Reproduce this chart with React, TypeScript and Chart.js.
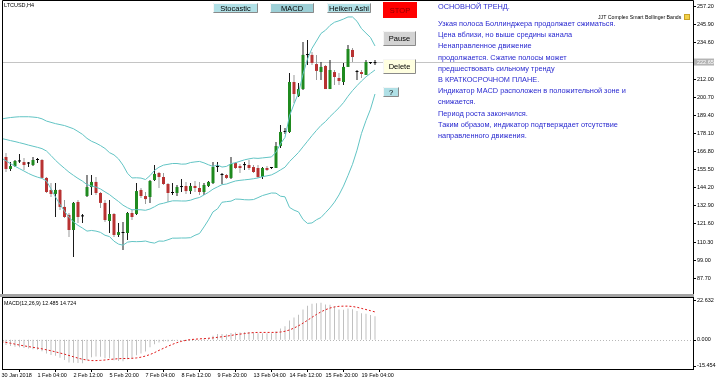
import React, { useEffect, useRef } from 'react';
import { Chart, registerables } from 'chart.js';

Chart.register(...registerables);

const FONT = '"Liberation Sans", Arial, Helvetica, sans-serif';

const symbolLabel = 'LTCUSD,H4';
const indicatorName = 'JJT Complex Smart Bollinger Bands';

// ---- candles (H4 bars, index 0..83) ----
const opens = [
  165.9, 163.4, 155.9, 157.7, 160.6, 160.2, 159.3, 158.4, 161.5, 161.5,
  150.3, 142.8, 140.3, 142.8, 132.2, 127.2, 117.8, 135.3, 126.5, 139.0,
  144.6, 147.8, 140.9, 134.7, 123.4, 127.8, 114.7, 115.9, 115.9, 128.4,
  127.8, 142.8, 139.0, 138.4, 149.0, 153.4, 150.9, 146.5, 140.9, 140.9,
  144.6, 145.3, 142.1, 145.3, 144.0, 141.5, 145.3, 147.1, 157.1, 152.1,
  152.1, 150.3, 159.6, 157.7, 158.4, 158.4, 157.1, 156.5, 150.9, 156.5,
  156.5, 156.5, 170.2, 179.0, 179.0, 210.2, 201.4, 205.8, 227.0, 227.1,
  221.4, 216.4, 220.2, 205.8, 216.4, 212.7, 210.2, 219.6, 230.2, 216.4,
  216.4, 214.6, 222.0, 222.0,
];
const highs = [
  166.5, 165.9, 160.2, 161.5, 165.2, 162.7, 160.2, 163.4, 162.7, 162.1,
  150.9, 147.1, 147.1, 143.4, 136.5, 128.4, 135.3, 136.5, 127.8, 152.1,
  152.1, 150.9, 141.5, 136.5, 136.5, 128.4, 122.2, 122.8, 129.0, 130.3,
  147.1, 144.0, 141.5, 149.0, 158.4, 154.0, 153.4, 147.1, 147.1, 145.9,
  149.6, 147.8, 147.1, 148.4, 147.8, 147.1, 148.4, 160.2, 160.2, 153.4,
  152.8, 163.4, 160.2, 159.0, 160.2, 161.5, 158.4, 158.4, 157.1, 157.7,
  157.1, 172.7, 183.3, 181.5, 215.8, 214.6, 209.6, 235.2, 236.4, 228.9,
  227.1, 222.7, 220.8, 223.9, 217.7, 215.8, 222.1, 233.3, 231.4, 217.7,
  217.7, 223.9, 222.7, 223.9,
];
const lows = [
  162.7, 154.0, 154.6, 157.1, 159.6, 155.3, 157.1, 157.7, 159.6, 150.3,
  140.9, 138.4, 125.9, 130.3, 125.3, 113.4, 100.9, 122.2, 122.2, 138.4,
  139.6, 139.6, 131.5, 122.8, 115.9, 113.4, 113.4, 105.3, 111.6, 124.0,
  127.2, 137.8, 134.0, 134.7, 148.4, 144.0, 145.9, 135.3, 139.6, 139.0,
  141.5, 140.3, 140.3, 141.5, 139.6, 139.6, 144.6, 146.5, 154.0, 146.5,
  149.6, 149.6, 155.9, 153.4, 155.3, 155.3, 153.4, 150.3, 149.6, 154.6,
  155.9, 156.5, 169.0, 177.7, 178.4, 197.1, 200.8, 205.2, 220.8, 220.8,
  211.4, 211.4, 205.8, 205.8, 208.3, 208.3, 208.3, 219.6, 222.7, 211.4,
  212.7, 214.6, 221.4, 220.8,
];
const closes = [
  163.4, 155.9, 157.7, 160.9, 160.9, 158.4, 159.3, 161.5, 161.5, 150.3,
  141.5, 140.3, 142.8, 132.2, 125.9, 117.8, 134.7, 125.9, 126.3, 144.6,
  147.8, 140.9, 134.7, 124.0, 127.8, 114.7, 116.5, 116.0, 128.4, 125.9,
  142.1, 139.0, 137.1, 148.4, 152.8, 150.9, 146.5, 140.9, 141.0, 144.6,
  144.7, 142.1, 145.3, 144.0, 141.5, 145.9, 147.8, 157.1, 157.2, 152.2,
  150.3, 159.0, 156.5, 156.5, 158.3, 156.5, 154.0, 150.9, 156.5, 155.3,
  156.6, 170.2, 179.0, 179.1, 210.2, 202.7, 205.8, 227.1, 227.1, 222.1,
  217.1, 219.6, 205.8, 217.7, 213.3, 210.8, 219.6, 230.8, 225.8, 216.5,
  215.2, 222.7, 222.1, 222.1,
];

// ---- Bollinger bands ----
const upperBand = [
  187.1, 187.6, 188.0, 188.3, 188.5, 188.5, 188.5, 188.3, 188.0, 187.2,
  185.8, 185.0, 184.2, 183.6, 183.0, 182.0, 181.0, 179.3, 177.5, 175.0,
  173.2, 172.0, 170.5, 168.7, 166.1, 164.7, 162.2, 158.3, 153.2, 150.3,
  150.4, 150.2, 149.3, 151.7, 155.0, 157.0, 158.3, 158.8, 159.3, 159.3,
  158.9, 159.0, 159.9, 160.3, 160.6, 159.7, 158.5, 157.5, 158.4, 157.1,
  157.5, 159.2, 159.8, 160.7, 161.6, 162.2, 162.7, 162.5, 162.8, 163.1,
  163.4, 166.4, 171.6, 175.6, 189.0, 196.4, 203.3, 215.0, 224.5, 231.2,
  235.8, 240.5, 242.5, 245.5, 247.5, 248.4, 249.5, 250.8, 250.8, 248.1,
  243.5, 240.7, 238.0, 232.7,
];
const middleBand = [
  174.9, 174.3, 173.6, 173.0, 172.3, 171.6, 170.8, 170.1, 169.4, 168.6,
  167.1, 164.3, 161.3, 158.7, 156.3, 153.9, 151.9, 150.0, 148.3, 146.1,
  145.3, 144.6, 143.4, 141.6, 139.9, 137.7, 135.6, 133.3, 131.7, 130.4,
  130.5, 130.4, 130.1, 130.9, 132.3, 133.9, 134.5, 135.3, 136.0, 136.0,
  135.9, 135.9, 136.4, 137.4, 138.1, 139.7, 141.3, 143.3, 144.7, 146.1,
  146.5, 147.5, 148.4, 148.8, 149.1, 149.4, 149.8, 150.3, 151.1, 151.6,
  152.2, 153.6, 155.3, 157.0, 160.5, 163.3, 166.2, 169.7, 173.2, 176.7,
  180.0, 183.1, 185.5, 188.6, 191.3, 194.1, 197.3, 201.3, 204.8, 207.9,
  210.8, 213.4, 215.6, 217.7,
];
const lowerBand = [
  162.7, 161.0, 159.2, 157.6, 156.1, 154.6, 153.1, 151.8, 150.8, 150.0,
  148.4, 143.5, 138.4, 133.8, 129.6, 125.8, 122.8, 120.7, 119.0, 117.1,
  117.5, 117.1, 116.3, 114.5, 113.7, 110.8, 109.0, 108.3, 110.2, 110.6,
  110.5, 110.6, 110.9, 110.1, 109.6, 110.9, 110.8, 111.7, 112.7, 112.7,
  112.8, 112.8, 113.0, 114.5, 115.6, 119.7, 124.1, 129.1, 131.0, 135.1,
  135.5, 135.8, 137.1, 137.0, 136.7, 136.6, 136.8, 138.0, 139.3, 140.1,
  140.9, 140.8, 138.9, 138.5, 131.9, 130.2, 129.1, 124.4, 121.9, 122.2,
  124.2, 125.6, 128.6, 131.6, 135.2, 139.7, 145.2, 151.8, 158.8, 167.6,
  178.1, 186.1, 193.2, 202.7,
];

// ---- MACD(12,26,9) ----
const macdMain = [
  -2.0, -2.8, -3.3, -3.7, -4.0, -4.3, -4.6, -5.0, -5.3, -6.0,
  -7.2, -8.0, -8.5, -9.5, -10.7, -12.0, -12.1, -12.3, -12.4, -10.8,
  -9.3, -8.9, -9.0, -9.8, -9.8, -10.8, -11.2, -11.3, -10.3, -9.6,
  -8.2, -7.2, -6.2, -4.0, -2.3, -1.4, -0.9, -0.9, -0.7, -0.3,
  0.0, -0.1, 0.2, 0.3, 0.1, 0.5, 0.9, 2.2, 3.0, 3.0,
  2.9, 3.6, 3.8, 3.9, 4.1, 4.1, 3.9, 3.4, 3.5, 3.4,
  3.4, 4.5, 6.0, 7.1, 10.2, 11.8, 13.2, 16.0, 18.0, 19.0,
  19.3, 19.6, 18.6, 18.5, 17.6, 16.0, 15.9, 16.5, 16.2, 15.2,
  14.0, 13.8, 13.1, 12.485,
];
const macdSignal = [
  -1.0, -1.4, -1.8, -2.3, -2.8, -3.2, -3.6, -4.0, -4.4, -4.8,
  -5.3, -5.8, -6.4, -7.0, -7.6, -8.3, -9.0, -9.7, -10.3, -10.7,
  -11.0, -11.0, -10.9, -10.7, -10.4, -10.2, -10.0, -9.9, -9.9, -9.8,
  -9.6, -9.2, -8.6, -7.8, -6.8, -5.6, -4.5, -3.4, -2.4, -1.5,
  -0.8, -0.3, 0.1, 0.3, 0.5, 0.6, 0.8, 1.0, 1.3, 1.6,
  1.9, 2.3, 2.7, 3.0, 3.3, 3.6, 3.8, 3.9, 3.9, 3.9,
  3.9, 3.9, 4.1, 4.5, 5.2, 6.2, 7.4, 8.8, 10.3, 11.9,
  13.4, 14.8, 15.9, 16.8, 17.4, 17.7, 17.8, 17.8, 17.6, 17.2,
  16.6, 16.0, 15.4, 14.724,
];

// ---- axes ----
const priceTicks = [257.2, 245.9, 234.6, 223.3, 212.0, 200.7, 189.4, 178.1, 166.8, 155.5, 144.2, 132.9, 121.6, 110.3, 99.0, 87.7];
const macdTicks = [22.632, 0, -15.454];
const timeLabels = ['30 Jan 2018', '1 Feb 04:00', '2 Feb 12:00', '5 Feb 20:00', '7 Feb 04:00', '8 Feb 12:00', '9 Feb 20:00', '13 Feb 04:00', '14 Feb 12:00', '15 Feb 20:00', '19 Feb 04:00'];
const timeLabelBars = [0, 8, 16, 24, 32, 40, 48, 56, 64, 72, 80];
const bidPrice = 222.65;

const buttonLabels = ['Stocastic', 'MACD', 'Heiken Ashi', 'STOP', 'Pause', 'Delete', '?'];
const commentLines = [
  'ОСНОВНОЙ ТРЕНД.',
  'Узкая полоса Боллинджера продолжает сжиматься.',
  'Цена вблизи, но выше средины канала',
  'Ненаправленное движение',
  'продолжается. Сжатие полосы может',
  'предшествовать сильному тренду',
  'В КРАТКОСРОЧНОМ ПЛАНЕ.',
  'Индикатор MACD расположен в положительной зоне и',
  'снижается.',
  'Период роста закончился.',
  'Таким образом, индикатор подтверждает отсутствие',
  'направленного движения.',
];

// ---- styles / layout ----
const BULL = '#1f8a1f';
const BEAR = '#b83232';
const DOJI = '#000000';
const BULL_WICK = '#1a1a1a';
const BEAR_WICK = '#9a9a9a';
const BAND = '#62c4c4';
const X_MIN = 1 / 3;
const X_MAX = 153.667;

const buttonStyles = [
  { x: 213, y: 3, w: 45, h: 10, bg: '#b0e0e6', fg: '#000', bevel: true },
  { x: 270, y: 3, w: 44, h: 10, bg: '#9ccfd6', fg: '#000', bevel: true },
  { x: 327, y: 3, w: 44, h: 10, bg: '#b0e0e6', fg: '#000', bevel: true },
  { x: 383, y: 2, w: 34, h: 16, bg: '#ff0000', fg: '#8b0000', bevel: false },
  { x: 383, y: 31, w: 33, h: 15, bg: '#d3d3d3', fg: '#000', bevel: true },
  { x: 383, y: 59, w: 33, h: 15, bg: '#ffffe0', fg: '#000', bevel: true },
  { x: 383, y: 87, w: 16, h: 10, bg: '#b0e0e6', fg: '#000', bevel: true },
];

const mainOverlay = {
  id: 'mainOverlay',
  beforeDatasetsDraw(chart: any) {
    const { ctx, chartArea: a, scales } = chart;
    const y = Math.round(scales.y.getPixelForValue(bidPrice)) + 0.5;
    ctx.save();
    ctx.strokeStyle = '#c4c4c4';
    ctx.lineWidth = 1;
    ctx.beginPath();
    ctx.moveTo(a.left, y);
    ctx.lineTo(a.right, y);
    ctx.stroke();
    ctx.restore();
  },
  afterDraw(chart: any) {
    const { ctx, scales } = chart;
    ctx.save();
    // frame
    ctx.strokeStyle = '#000';
    ctx.lineWidth = 1;
    ctx.beginPath();
    ctx.moveTo(2.5, 294);
    ctx.lineTo(2.5, 0.5);
    ctx.lineTo(693.5, 0.5);
    ctx.lineTo(693.5, 294);
    ctx.stroke();
    // splitter
    ctx.fillStyle = '#a4a4a4';
    ctx.fillRect(0, 294, 694, 3);

    // bid label
    const by = scales.y.getPixelForValue(bidPrice);
    ctx.fillStyle = '#b4b4b4';
    ctx.fillRect(694, by - 3.5, 20, 7);
    ctx.fillStyle = '#ffffff';
    ctx.font = `5.5px ${FONT}`;
    ctx.textAlign = 'left';
    ctx.textBaseline = 'middle';
    ctx.fillText(bidPrice.toFixed(2), 697, by + 0.3);

    // symbol + indicator name
    ctx.fillStyle = '#000';
    ctx.font = `5.5px ${FONT}`;
    ctx.fillText(symbolLabel, 4, 5);
    ctx.font = `5.2px ${FONT}`;
    ctx.fillText(indicatorName, 598, 17.5);
    ctx.fillStyle = '#f2d14a';
    ctx.fillRect(684, 14, 6, 6);
    ctx.strokeStyle = '#c9a227';
    ctx.strokeRect(684.5, 14.5, 5, 5);

    // buttons
    buttonLabels.forEach((label, k) => {
      const b = buttonStyles[k];
      ctx.fillStyle = b.bg;
      ctx.fillRect(b.x, b.y, b.w, b.h);
      if (b.bevel) {
        ctx.lineWidth = 1;
        ctx.strokeStyle = '#f6f6f6';
        ctx.beginPath();
        ctx.moveTo(b.x + 0.5, b.y + b.h - 0.5);
        ctx.lineTo(b.x + 0.5, b.y + 0.5);
        ctx.lineTo(b.x + b.w - 0.5, b.y + 0.5);
        ctx.stroke();
        ctx.strokeStyle = '#8a8a8a';
        ctx.beginPath();
        ctx.moveTo(b.x + b.w - 0.5, b.y + 0.5);
        ctx.lineTo(b.x + b.w - 0.5, b.y + b.h - 0.5);
        ctx.lineTo(b.x + 0.5, b.y + b.h - 0.5);
        ctx.stroke();
      }
      ctx.fillStyle = b.fg;
      ctx.font = `7.5px ${FONT}`;
      ctx.textAlign = 'center';
      ctx.textBaseline = 'middle';
      ctx.fillText(label, b.x + b.w / 2, b.y + b.h / 2 + 0.5);
    });

    // comment text
    ctx.fillStyle = '#2a2ad0';
    ctx.font = `7.35px ${FONT}`;
    ctx.textAlign = 'left';
    ctx.textBaseline = 'middle';
    commentLines.forEach((line, k) => {
      const y = k === 0 ? 6.5 : 24 + 11.2 * (k - 1);
      ctx.fillText(line, 438, y);
    });
    ctx.restore();
  },
};

const macdOverlay = {
  id: 'macdOverlay',
  beforeDatasetsDraw(chart: any) {
    const { ctx, chartArea: a, scales } = chart;
    const y = Math.round(scales.y.getPixelForValue(0)) + 0.5;
    ctx.save();
    ctx.strokeStyle = '#b8b8b8';
    ctx.lineWidth = 1;
    ctx.setLineDash([1, 2]);
    ctx.beginPath();
    ctx.moveTo(a.left, y);
    ctx.lineTo(a.right, y);
    ctx.stroke();
    ctx.restore();
  },
  afterDraw(chart: any) {
    const { ctx, chartArea: a, scales } = chart;
    ctx.save();
    ctx.strokeStyle = '#000';
    ctx.lineWidth = 1;
    ctx.strokeRect(2.5, 3.5, 691, 72);
    ctx.font = `5.5px ${FONT}`;
    ctx.fillStyle = '#000';
    ctx.textAlign = 'left';
    ctx.textBaseline = 'middle';
    macdTicks.forEach((v) => {
      const py = Math.min(Math.max(scales.y.getPixelForValue(v), a.top + 3), a.bottom - 3.5);
      ctx.beginPath();
      ctx.moveTo(693, Math.round(py) + 0.5);
      ctx.lineTo(696, Math.round(py) + 0.5);
      ctx.stroke();
      ctx.fillText(v.toFixed(3), 697, py);
    });
    const n = macdMain.length - 1;
    ctx.font = `5.3px ${FONT}`;
    ctx.fillText(`MACD(12,26,9) ${macdMain[n].toFixed(3)} ${macdSignal[n].toFixed(3)}`, 4, 9.5);
    ctx.restore();
  },
};

export default function App() {
  const mainRef = useRef<HTMLCanvasElement>(null);
  const macdRef = useRef<HTMLCanvasElement>(null);

  useEffect(() => {
    const bodies = opens.map((o, i) => ({ x: i, y: [o, closes[i]] }));
    const wicks = lows.map((l, i) => ({ x: i, y: [l, highs[i]] }));
    const bodyColors = opens.map((o, i) =>
      Math.abs(closes[i] - o) < 0.35 ? DOJI : closes[i] > o ? BULL : BEAR
    );
    const wickColors = opens.map((o, i) => (closes[i] < o - 0.35 ? BEAR_WICK : BULL_WICK));
    const line = (vals: number[]) => ({
      type: 'line' as const,
      data: vals.map((v, i) => ({ x: i, y: v })),
      borderColor: BAND,
      borderWidth: 1,
      pointRadius: 0,
      tension: 0,
      fill: false,
    });

    const main = new Chart(mainRef.current as HTMLCanvasElement, {
      type: 'bar',
      data: {
        datasets: [
          line(upperBand) as any,
          line(middleBand) as any,
          line(lowerBand) as any,
          {
            type: 'bar',
            data: bodies as any,
            backgroundColor: bodyColors,
            barThickness: 3,
            minBarLength: 1,
            grouped: false,
            inflateAmount: 0,
            borderWidth: 0,
          },
          {
            type: 'bar',
            data: wicks as any,
            backgroundColor: wickColors,
            barThickness: 1,
            grouped: false,
            inflateAmount: 0,
            borderWidth: 0,
          },
        ],
      },
      options: {
        responsive: false,
        animation: false,
        events: [],
        layout: { padding: { left: 3, top: 1, right: 0, bottom: 4 } },
        plugins: { legend: { display: false }, tooltip: { enabled: false } },
        scales: {
          x: { type: 'linear', min: X_MIN, max: X_MAX, offset: false, display: false },
          y: {
            type: 'linear',
            position: 'right',
            min: 78.46,
            max: 260.76,
            afterBuildTicks: (s: any) => {
              s.ticks = priceTicks.map((v) => ({ value: v }));
            },
            afterFit: (s: any) => {
              s.width = 27;
              s.paddingTop = 0;
              s.paddingBottom = 0;
            },
            ticks: {
              autoSkip: false,
              padding: 1,
              color: '#000',
              font: { size: 5.5, family: FONT },
              callback: (v: any) => Number(v).toFixed(2),
            },
            grid: { display: true, drawOnChartArea: false, drawTicks: true, tickLength: 3, color: '#000' },
            border: { display: true, color: '#000', width: 1 },
          },
        },
      } as any,
      plugins: [mainOverlay],
    });

    const macd = new Chart(macdRef.current as HTMLCanvasElement, {
      type: 'bar',
      data: {
        datasets: [
          {
            type: 'line',
            data: macdSignal.map((v, i) => ({ x: i, y: v })) as any,
            borderColor: '#e01818',
            borderWidth: 1,
            borderDash: [2, 2],
            pointRadius: 0,
            tension: 0,
            fill: false,
          } as any,
          {
            type: 'bar',
            data: macdMain.map((v, i) => ({ x: i, y: v })) as any,
            backgroundColor: '#c0c0c0',
            barThickness: 1,
            grouped: false,
            inflateAmount: 0,
            borderWidth: 0,
          },
        ],
      },
      options: {
        responsive: false,
        animation: false,
        events: [],
        layout: { padding: { left: 3, top: 3, right: 27, bottom: 0 } },
        plugins: { legend: { display: false }, tooltip: { enabled: false } },
        scales: {
          x: {
            type: 'linear',
            min: X_MIN,
            max: X_MAX,
            offset: false,
            position: 'bottom',
            afterBuildTicks: (s: any) => {
              s.ticks = timeLabelBars.map((v) => ({ value: v }));
            },
            afterFit: (s: any) => {
              s.height = 12;
              s.paddingLeft = 0;
              s.paddingRight = 0;
            },
            ticks: {
              autoSkip: false,
              maxRotation: 0,
              minRotation: 0,
              align: 'start',
              padding: 0,
              color: '#000',
              font: { size: 5.5, family: FONT },
              callback: (_v: any, idx: number) => timeLabels[idx],
            },
            grid: { display: true, drawOnChartArea: false, drawTicks: true, tickLength: 3, color: '#000' },
            border: { display: true, color: '#000', width: 1 },
          },
          y: { type: 'linear', min: -15.454, max: 22.632, display: false },
        },
      } as any,
      plugins: [macdOverlay],
    });

    return () => {
      main.destroy();
      macd.destroy();
    };
  }, []);

  return (
    <div
      style={{
        position: 'fixed',
        left: 0,
        top: 0,
        width: 720,
        height: 381,
        background: '#ffffff',
        overflow: 'hidden',
      }}
    >
      <canvas
        ref={mainRef}
        width={720}
        height={297}
        style={{ position: 'absolute', left: 0, top: 0, width: 720, height: 297 }}
      />
      <canvas
        ref={macdRef}
        width={720}
        height={87}
        style={{ position: 'absolute', left: 0, top: 294, width: 720, height: 87 }}
      />
    </div>
  );
}
